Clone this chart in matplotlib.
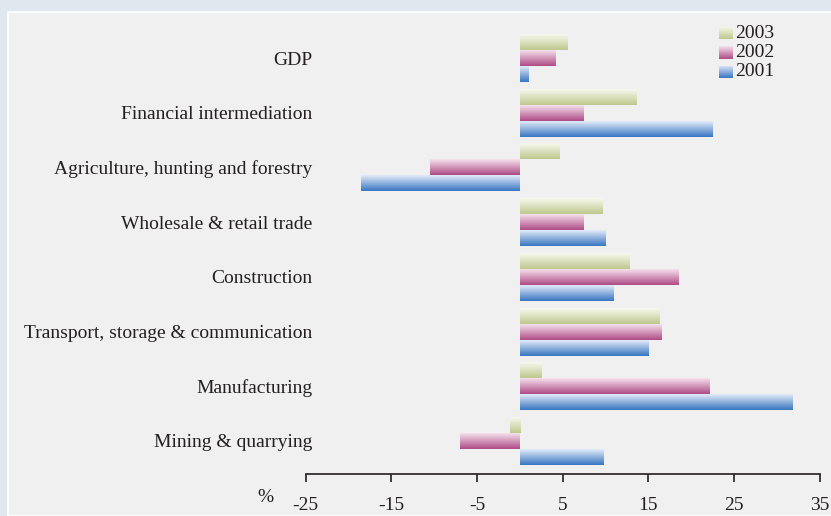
import numpy as np
import matplotlib
matplotlib.use('Agg')
import matplotlib.pyplot as plt
from matplotlib.patches import Rectangle
from matplotlib.colors import LinearSegmentedColormap

plt.rcParams['font.family'] = ['Liberation Serif', 'DejaVu Serif']

# sectors, listed from bottom to top of the chart
sectors = ["Mining & quarrying", "Manufacturing",
           "Transport, storage & communication", "Construction",
           "Wholesale & retail trade", "Agriculture, hunting and forestry",
           "Financial intermediation", "GDP"]
years = ["2003", "2002", "2001"]
growth_2003 = [-1.2, 2.5, 16.3, 12.8, 9.6, 4.6, 13.6, 5.5]
growth_2002 = [-7.0, 22.1, 16.5, 18.5, 7.4, -10.5, 7.4, 4.1]
growth_2001 = [9.7, 31.8, 15.0, 10.9, 10.0, -18.5, 22.5, 1.0]
xticks = [-25, -15, -5, 5, 15, 25, 35]

# (top, bottom) colours of the vertical gradient for each year
shades = {"2003": ("#f8f9ef", "#bec88d"),
          "2002": ("#f5e1ec", "#ae4c86"),
          "2001": ("#e3ebf8", "#3876c1")}
txt = "#231f20"
fs = 14

W, H = 831, 516
fig = plt.figure(figsize=(W / 100, H / 100), dpi=100)
fig.patch.set_facecolor("#e0e7ef")
fig.patches.append(Rectangle((8 / W, 0), 1, (H - 12) / H, transform=fig.transFigure,
                             facecolor="#f0f0f0", edgecolor="white", lw=1.2, zorder=-1))

ax = fig.add_axes([305.7 / W, (H - 474.3) / H, (819.7 - 305.7) / W, (474.3 - 20) / H])
ax.set_facecolor("none")


def gradient_fill(ax, patch, top, bottom, transform=None):
    cmap = LinearSegmentedColormap.from_list("g", [bottom, top])
    x0, y0 = patch.get_x(), patch.get_y()
    x1, y1 = x0 + patch.get_width(), y0 + patch.get_height()
    grad = np.linspace(0, 1, 64).reshape(-1, 1)
    im = ax.imshow(grad, cmap=cmap, aspect="auto", origin="lower",
                   extent=[min(x0, x1), max(x0, x1), y0, y1],
                   interpolation="bilinear", zorder=3,
                   transform=transform if transform is not None else ax.transData)
    im.set_clip_path(patch)


bh = 0.2925
pos = np.arange(len(sectors))
for vals, yr, off in [(growth_2003, "2003", bh), (growth_2002, "2002", 0.0),
                      (growth_2001, "2001", -bh)]:
    bars = ax.barh(pos + off, vals, height=bh, color="none", edgecolor="none")
    for b in bars:
        gradient_fill(ax, b, *shades[yr])

# legend built from small gradient swatches
for i, yr in enumerate(years):
    yc = 1 - (13 + 19.5 * i) / 454.3
    sw = Rectangle((0.8033, yc - 6.5 / 454.3), 14 / 514, 13 / 454.3,
                   transform=ax.transAxes, facecolor="none", edgecolor="none")
    ax.add_patch(sw)
    gradient_fill(ax, sw, *shades[yr], transform=ax.transAxes)
    ax.text(0.8345, yc, yr, transform=ax.transAxes, fontsize=fs,
            color=txt, va="center", ha="left")

ax.set_xlim(-25, 35)
ax.set_ylim(-0.609, -0.609 + 454.3 / 54.7)
ax.set_xticks(xticks)
ax.set_xticklabels([str(t) for t in xticks], fontsize=fs, color=txt)
ax.set_yticks(pos)
ax.set_yticklabels(sectors, fontsize=fs, color=txt)
ax.tick_params(axis="y", length=0, pad=-5)
ax.tick_params(axis="x", direction="out", length=6, width=1.2, color=txt, pad=10)
for s in ["left", "right", "top"]:
    ax.spines[s].set_visible(False)
ax.spines["bottom"].set_color(txt)
ax.spines["bottom"].set_linewidth(1.2)

fig.text(265 / W, 1 - 497 / H, "%", fontsize=fs, color=txt, ha="center", va="center")

fig.savefig("out.png", dpi=100, facecolor=fig.get_facecolor())
